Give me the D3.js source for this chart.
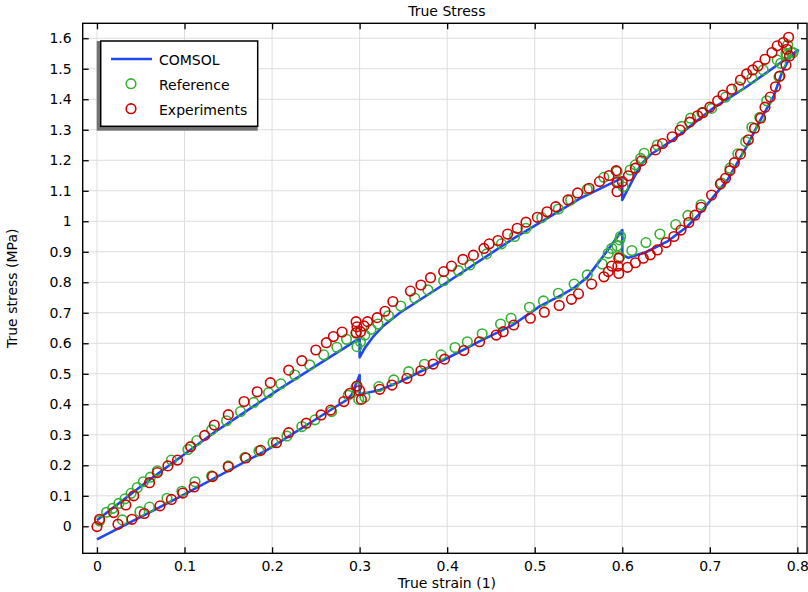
<!DOCTYPE html>
<html>
<head>
<meta charset="utf-8">
<script src="https://cdn.jsdelivr.net/npm/d3@7"></script>
<style>
  html, body { margin: 0; padding: 0; background: #fff; }
  svg { display: block; font-family: "DejaVu Sans", sans-serif; }
</style>
</head>
<body>
<div id="vis"></div>
<script>
// tick values
let xTicks = [0, 0.1, 0.2, 0.3, 0.4, 0.5, 0.6, 0.7, 0.8]
let yTicks = [0, 0.1, 0.2, 0.3, 0.4, 0.5, 0.6, 0.7, 0.8, 0.9, 1, 1.1, 1.2, 1.3, 1.4, 1.5, 1.6]

// COMSOL solution, [strain, stress]
let comsolLower = [
  [0, -0.043], [0.095, 0.097], [0.194, 0.25], [0.255, 0.36], [0.285, 0.414], [0.291, 0.432],
  [0.3, 0.496], [0.3, 0.432], [0.323, 0.447], [0.346, 0.474], [0.4, 0.551], [0.438, 0.608],
  [0.475, 0.66], [0.506, 0.722], [0.53, 0.757], [0.545, 0.782], [0.56, 0.816], [0.582, 0.9],
  [0.6, 0.971], [0.6, 0.89], [0.607, 0.88], [0.628, 0.9], [0.651, 0.933], [0.674, 0.982],
  [0.689, 1.027], [0.704, 1.08], [0.72, 1.135], [0.742, 1.245], [0.758, 1.333], [0.773, 1.41],
  [0.782, 1.485], [0.792, 1.54], [0.8015, 1.562]
]
let comsolUpper = [
  [0, 0.02], [0.057, 0.146], [0.133, 0.306], [0.21, 0.453], [0.285, 0.589], [0.3, 0.617],
  [0.3, 0.554], [0.306, 0.585], [0.315, 0.62], [0.327, 0.657], [0.346, 0.7], [0.4, 0.8],
  [0.476, 0.944], [0.552, 1.075], [0.6, 1.142], [0.6, 1.07], [0.61, 1.125], [0.621, 1.185],
  [0.632, 1.218], [0.658, 1.267], [0.704, 1.371], [0.742, 1.441], [0.78, 1.518], [0.8015, 1.562]
]

// Reference data, [strain, stress]
let reference = [
  [0.003, 0.018], [0.011, 0.046], [0.018, 0.059], [0.025, 0.075], [0.032, 0.09], [0.039, 0.108],
  [0.046, 0.127], [0.053, 0.146], [0.061, 0.161], [0.069, 0.182], [0.085, 0.217], [0.104, 0.252],
  [0.114, 0.281], [0.131, 0.316], [0.148, 0.346], [0.164, 0.376], [0.179, 0.406], [0.196, 0.438],
  [0.21, 0.467], [0.226, 0.496], [0.243, 0.529], [0.259, 0.562], [0.274, 0.587], [0.285, 0.613],
  [0.296, 0.633], [0.297, 0.589], [0.301, 0.605], [0.306, 0.627], [0.313, 0.646], [0.321, 0.663],
  [0.333, 0.69], [0.347, 0.722], [0.363, 0.748], [0.378, 0.775], [0.396, 0.805], [0.413, 0.838],
  [0.426, 0.857], [0.445, 0.893], [0.462, 0.926], [0.477, 0.95], [0.49, 0.977], [0.508, 1.012],
  [0.527, 1.04], [0.541, 1.07], [0.56, 1.105], [0.579, 1.144], [0.594, 1.163], [0.595, 1.13],
  [0.601, 1.113], [0.609, 1.168], [0.615, 1.185], [0.621, 1.206], [0.625, 1.223], [0.64, 1.25],
  [0.668, 1.311], [0.678, 1.338], [0.691, 1.356], [0.702, 1.37], [0.718, 1.407], [0.733, 1.441],
  [0.748, 1.469], [0.761, 1.496], [0.777, 1.529], [0.787, 1.551], [0.789, 1.578], [0.795, 1.553],
  [0.029, 0.021], [0.049, 0.048], [0.06, 0.063], [0.08, 0.092], [0.097, 0.115], [0.112, 0.146],
  [0.131, 0.165], [0.15, 0.198], [0.169, 0.226], [0.185, 0.247], [0.201, 0.274], [0.217, 0.296],
  [0.234, 0.327], [0.249, 0.349], [0.268, 0.376], [0.287, 0.43], [0.296, 0.456], [0.299, 0.416],
  [0.306, 0.424], [0.322, 0.458], [0.339, 0.48], [0.356, 0.507], [0.374, 0.531], [0.393, 0.562],
  [0.409, 0.586], [0.423, 0.605], [0.44, 0.631], [0.461, 0.663], [0.473, 0.682], [0.494, 0.718],
  [0.51, 0.739], [0.527, 0.764], [0.545, 0.794], [0.56, 0.824], [0.577, 0.86], [0.584, 0.895],
  [0.588, 0.911], [0.594, 0.919], [0.597, 0.939], [0.598, 0.95], [0.597, 0.884], [0.611, 0.904],
  [0.627, 0.93], [0.643, 0.958], [0.661, 0.989], [0.675, 1.019], [0.69, 1.054], [0.713, 1.126],
  [0.723, 1.174], [0.732, 1.221], [0.741, 1.261], [0.748, 1.308], [0.757, 1.341], [0.765, 1.395],
  [0.779, 1.474], [0.781, 1.518], [0.788, 1.545], [0.793, 1.553]
]

// Experimental data, [strain, stress]
let experiments = [
  [0, -0.001], [0.003, 0.023], [0.019, 0.045], [0.033, 0.07], [0.042, 0.1], [0.06, 0.143],
  [0.069, 0.176], [0.081, 0.198], [0.092, 0.217], [0.107, 0.261], [0.123, 0.298], [0.134, 0.332],
  [0.15, 0.366], [0.168, 0.409], [0.183, 0.441], [0.198, 0.471], [0.219, 0.512], [0.234, 0.543],
  [0.25, 0.578], [0.262, 0.602], [0.27, 0.622], [0.28, 0.637], [0.296, 0.671], [0.297, 0.654],
  [0.296, 0.635], [0.301, 0.638], [0.305, 0.657], [0.309, 0.671], [0.32, 0.684], [0.329, 0.705],
  [0.338, 0.737], [0.358, 0.771], [0.37, 0.791], [0.381, 0.815], [0.396, 0.835], [0.405, 0.853],
  [0.418, 0.875], [0.43, 0.889], [0.442, 0.911], [0.448, 0.926], [0.458, 0.937], [0.469, 0.958],
  [0.48, 0.977], [0.49, 0.997], [0.503, 1.013], [0.514, 1.031], [0.524, 1.048], [0.538, 1.07],
  [0.549, 1.093], [0.562, 1.108], [0.574, 1.13], [0.585, 1.15], [0.593, 1.166], [0.594, 1.127],
  [0.594, 1.097], [0.6, 1.13], [0.607, 1.149], [0.615, 1.174], [0.622, 1.198], [0.638, 1.234],
  [0.646, 1.255], [0.657, 1.277], [0.666, 1.299], [0.677, 1.325], [0.686, 1.346], [0.692, 1.356],
  [0.7, 1.374], [0.709, 1.395], [0.715, 1.414], [0.725, 1.433], [0.735, 1.463], [0.742, 1.483],
  [0.749, 1.496], [0.755, 1.509], [0.763, 1.531], [0.771, 1.553], [0.777, 1.575], [0.784, 1.586],
  [0.788, 1.564], [0.79, 1.603],
  [0.024, 0.007], [0.04, 0.023], [0.054, 0.042], [0.072, 0.067], [0.085, 0.088], [0.098, 0.109],
  [0.111, 0.129], [0.132, 0.163], [0.15, 0.195], [0.17, 0.224], [0.187, 0.249], [0.205, 0.274],
  [0.219, 0.307], [0.239, 0.338], [0.256, 0.365], [0.267, 0.381], [0.282, 0.409], [0.289, 0.436],
  [0.297, 0.46], [0.3, 0.445], [0.302, 0.416], [0.323, 0.449], [0.337, 0.463], [0.354, 0.485],
  [0.37, 0.51], [0.384, 0.532], [0.397, 0.548], [0.419, 0.576], [0.437, 0.605], [0.456, 0.627],
  [0.464, 0.638], [0.476, 0.66], [0.495, 0.682], [0.511, 0.702], [0.528, 0.724], [0.542, 0.744],
  [0.55, 0.762], [0.565, 0.794], [0.579, 0.818], [0.584, 0.835], [0.588, 0.853], [0.595, 0.853],
  [0.596, 0.829], [0.596, 0.879], [0.606, 0.849], [0.615, 0.864], [0.624, 0.879], [0.632, 0.89],
  [0.64, 0.906], [0.65, 0.93], [0.659, 0.95], [0.667, 0.971], [0.676, 0.996], [0.683, 1.02],
  [0.69, 1.046], [0.702, 1.086], [0.712, 1.122], [0.718, 1.141], [0.723, 1.166], [0.728, 1.192],
  [0.735, 1.22], [0.744, 1.267], [0.751, 1.305], [0.758, 1.338], [0.763, 1.374], [0.769, 1.407],
  [0.775, 1.441], [0.78, 1.476], [0.787, 1.512], [0.791, 1.542]
]

let legendItems = ["COMSOL", "Reference", "Experiments"]

let blue = "#1f48f0", green = "#33b233", red = "#d00000"

let width = 808, height = 592
let mLeft = 82.7, mRight = 807, mTop = 23.3, mBottom = 553.3

let x = d3.scaleLinear().domain([-0.0163, 0.811]).range([mLeft, mRight])
let y = d3.scaleLinear().domain([-0.0885, 1.649]).range([mBottom, mTop])

let svg = d3.select("#vis").append("svg")
    .attr("width", width)
    .attr("height", height)

svg.append("clipPath").attr("id", "clip")
   .append("rect")
   .attr("x", mLeft).attr("y", mTop)
   .attr("width", mRight - mLeft).attr("height", mBottom - mTop)

// grid
let grid = svg.append("g").attr("stroke", "#dddddd").attr("stroke-width", 1)
grid.selectAll("line.v")
    .data(xTicks)
    .join("line")
    .attr("class", "v")
    .attr("x1", d => x(d)).attr("x2", d => x(d))
    .attr("y1", mTop).attr("y2", mBottom)
grid.selectAll("line.h")
    .data(yTicks)
    .join("line")
    .attr("class", "h")
    .attr("y1", d => y(d)).attr("y2", d => y(d))
    .attr("x1", mLeft).attr("x2", mRight)

// data
let plot = svg.append("g").attr("clip-path", "url(#clip)")

let line = d3.line().x(d => x(d[0])).y(d => y(d[1]))

plot.selectAll("path.comsol")
    .data([comsolLower, comsolUpper])
    .join("path")
    .attr("class", "comsol")
    .attr("fill", "none")
    .attr("stroke", blue)
    .attr("stroke-width", 2.6)
    .attr("stroke-linejoin", "round")
    .attr("d", line)

plot.append("g")
    .attr("fill", "none")
    .attr("stroke", green)
    .attr("stroke-width", 1.6)
    .selectAll("circle")
    .data(reference)
    .join("circle")
    .attr("cx", d => x(d[0]))
    .attr("cy", d => y(d[1]))
    .attr("r", 4.8)

plot.append("g")
    .attr("fill", "none")
    .attr("stroke", red)
    .attr("stroke-width", 1.6)
    .selectAll("circle")
    .data(experiments)
    .join("circle")
    .attr("cx", d => x(d[0]))
    .attr("cy", d => y(d[1]))
    .attr("r", 4.8)

// axes
let fmt = d => String(+d.toFixed(1))
let tickLen = 6

let axisBottom = svg.append("g").attr("transform", `translate(0,${mBottom})`)
    .call(d3.axisBottom(x).tickValues(xTicks).tickSizeInner(-tickLen).tickSizeOuter(0).tickPadding(8).tickFormat(fmt))
let axisTop = svg.append("g").attr("transform", `translate(0,${mTop})`)
    .call(d3.axisTop(x).tickValues(xTicks).tickSizeInner(-tickLen).tickSizeOuter(0).tickFormat(""))
let axisLeft = svg.append("g").attr("transform", `translate(${mLeft},0)`)
    .call(d3.axisLeft(y).tickValues(yTicks).tickSizeInner(-tickLen).tickSizeOuter(0).tickPadding(11).tickFormat(fmt))
let axisRight = svg.append("g").attr("transform", `translate(${mRight},0)`)
    .call(d3.axisRight(y).tickValues(yTicks).tickSizeInner(-tickLen).tickSizeOuter(0).tickFormat(""))

for (let a of [axisBottom, axisTop, axisLeft, axisRight]) {
  a.select(".domain").remove()
  a.selectAll(".tick line").attr("stroke", "#000").attr("stroke-width", 1.3)
  a.selectAll("text").attr("font-size", 14).attr("font-family", "DejaVu Sans").attr("fill", "#000")
}

svg.append("rect")
   .attr("x", mLeft).attr("y", mTop)
   .attr("width", mRight - mLeft).attr("height", mBottom - mTop)
   .attr("fill", "none")
   .attr("stroke", "#000")
   .attr("stroke-width", 1.4)

// titles
svg.append("text")
   .attr("x", (mLeft + mRight) / 2 + 2).attr("y", 16)
   .attr("text-anchor", "middle")
   .attr("font-size", 14)
   .text("True Stress")

svg.append("text")
   .attr("x", (mLeft + mRight) / 2 + 2).attr("y", 588)
   .attr("text-anchor", "middle")
   .attr("font-size", 14)
   .text("True strain (1)")

svg.append("text")
   .attr("transform", `translate(17,${(mTop + mBottom) / 2}) rotate(-90)`)
   .attr("text-anchor", "middle")
   .attr("font-size", 14)
   .text("True stress (MPa)")

// legend
let lg = svg.append("g")
lg.append("rect")
  .attr("x", 96.7).attr("y", 41)
  .attr("width", 161).attr("height", 89.7)
  .attr("fill", "#737373")
lg.append("rect")
  .attr("x", 100.7).attr("y", 41)
  .attr("width", 157).attr("height", 85.3)
  .attr("fill", "#fff")
  .attr("stroke", "#000")
  .attr("stroke-width", 1.5)

lg.append("line")
  .attr("x1", 111).attr("x2", 152)
  .attr("y1", 59).attr("y2", 59)
  .attr("stroke", blue).attr("stroke-width", 2.6)
lg.append("circle").attr("cx", 131).attr("cy", 83.7).attr("r", 4.8)
  .attr("fill", "none").attr("stroke", green).attr("stroke-width", 1.6)
lg.append("circle").attr("cx", 131).attr("cy", 108.7).attr("r", 4.8)
  .attr("fill", "none").attr("stroke", red).attr("stroke-width", 1.6)

lg.selectAll("text")
  .data(legendItems)
  .join("text")
  .attr("x", 159)
  .attr("y", (d, i) => 64.5 + i * 25)
  .attr("font-size", 14)
  .text(d => d)
</script>
</body>
</html>
